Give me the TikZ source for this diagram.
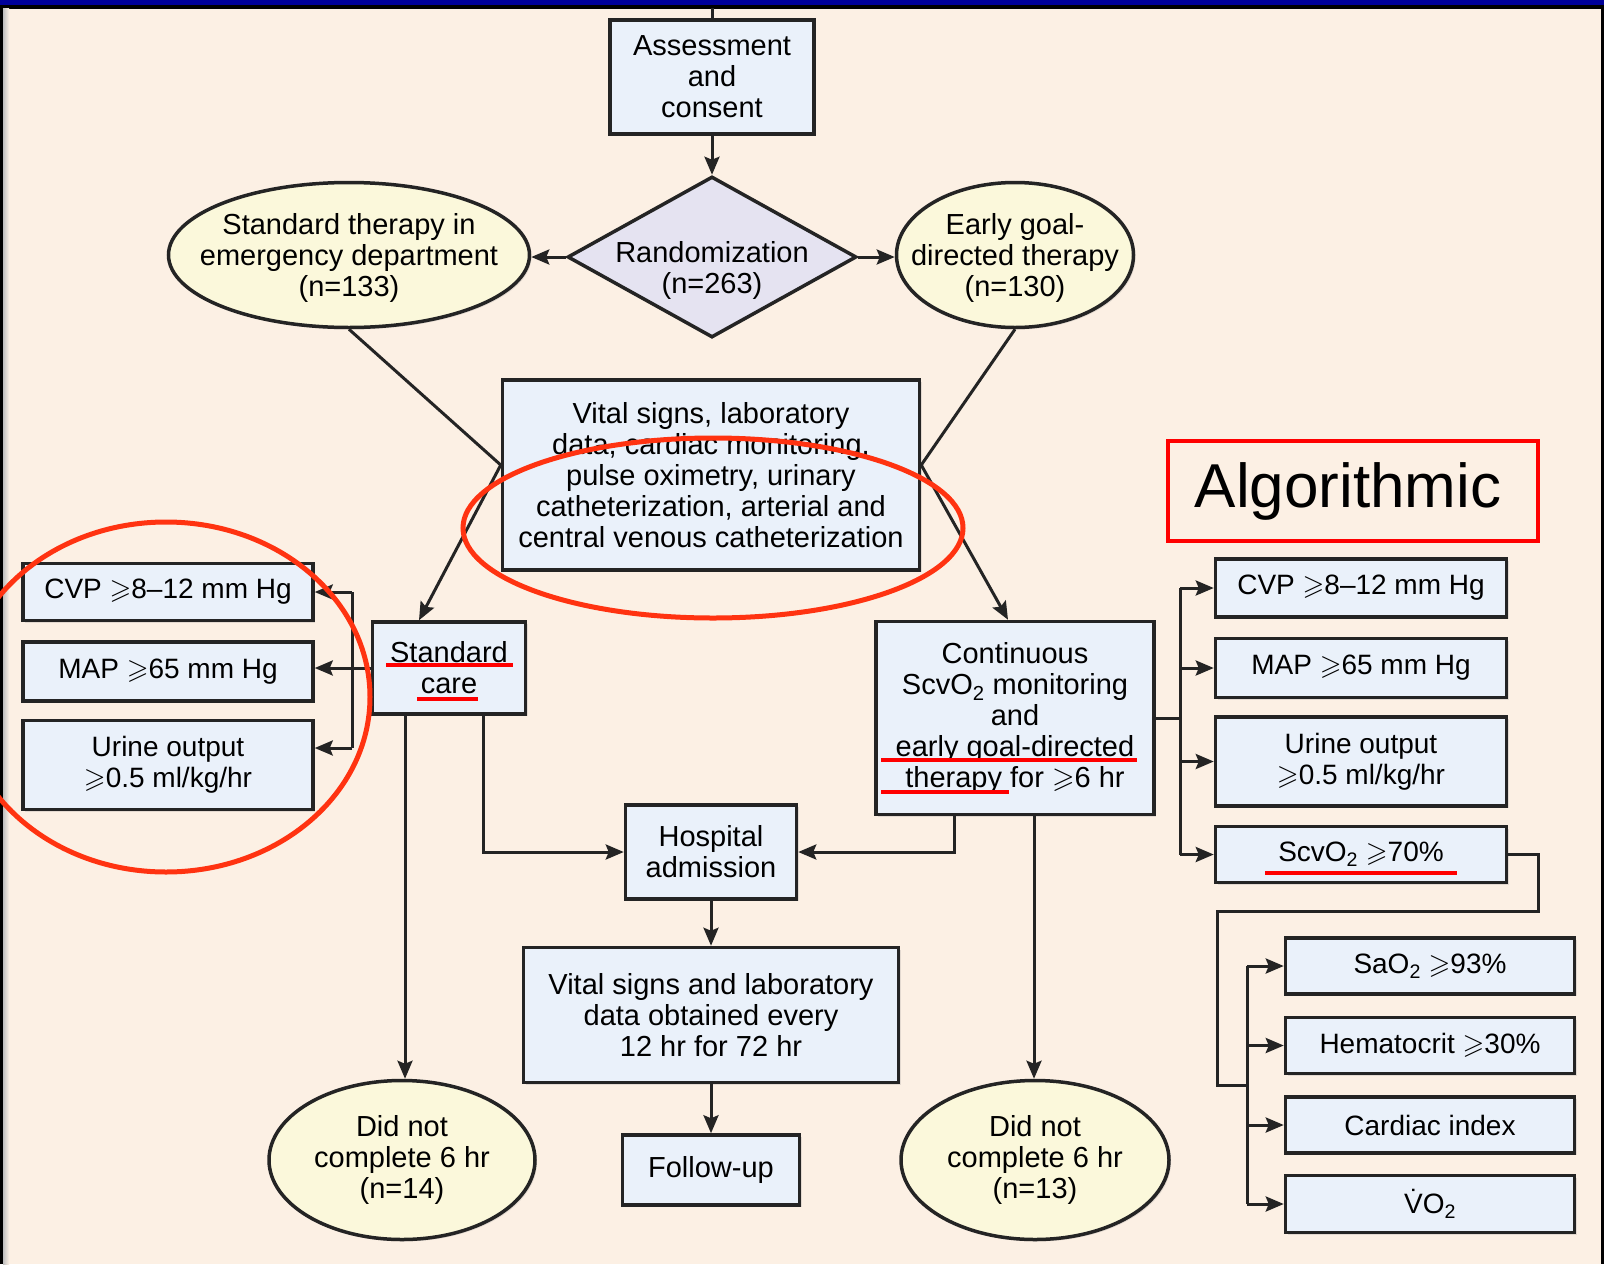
\documentclass[tikz,border=0pt]{standalone}
\usepackage{fontspec}
\setmainfont{Liberation Sans}
\usepackage{amssymb}
\usetikzlibrary{shapes.geometric}
\usetikzlibrary{arrows.meta}
\usetikzlibrary{shadows}
\usetikzlibrary{positioning}

\definecolor{paper}{HTML}{FCF0E4}
\definecolor{boxblue}{HTML}{EAF1FA}
\definecolor{ovalyellow}{HTML}{FBF8DB}
\definecolor{lilac}{HTML}{E5E3F1}
\definecolor{ink}{HTML}{242424}
\definecolor{bandblue}{HTML}{000099}
\definecolor{markred}{HTML}{FF0000}
\definecolor{ringred}{HTML}{FF3311}

\newcommand{\flowfont}{\fontsize{29}{31}\selectfont}
\newcommand{\sidefont}{\fontsize{28}{31}\selectfont}
\newcommand{\atleast}{$\geqslant$}

\begin{document}
\begin{tikzpicture}[x=1pt, y=-1pt]

\tikzset{flowbox/.style={draw=ink, line width=3.5pt, fill=boxblue, align=center,
                         inner sep=0pt, font=\flowfont,
                         drop shadow={shadow xshift=2pt, shadow yshift=-2pt, opacity=0.2}},
         sidebox/.style={flowbox, font=\sidefont},
         oval/.style={ellipse, draw=ink, line width=3.5pt, fill=ovalyellow, inner sep=0pt,
                      drop shadow={shadow xshift=2pt, shadow yshift=-2pt, opacity=0.2}},
         decision/.style={diamond, draw=ink, line width=3.5pt, fill=lilac, inner sep=0pt},
         ovaltext/.style={align=center, font=\flowfont, inner sep=0pt},
         dims/.style 2 args={minimum width=#1pt, minimum height=#2pt},
         link/.style={draw=ink, line width=3pt},
         arr/.style={link, -{Stealth[length=18pt, width=15pt, inset=3pt]}},
         underl/.style={draw=markred, line width=4.5pt},
         ring/.style={draw=ringred, line width=5pt}}

\useasboundingbox (0,0) rectangle (1604,1264);
\clip (0,0) rectangle (1604,1264);

% frame
\fill[paper] (0,0) rectangle (1604,1264);
\fill[bandblue] (0,0) rectangle (1604,4.5);
\fill[black] (0,4.5) rectangle (1604,8.5);
\fill[black] (0,8.5) rectangle (3,1264);
\shade[left color=gray!50, right color=paper] (3,8.5) rectangle (9,1264);
\fill[black] (1601,8.5) rectangle (1604,1264);

% middle column
\node[flowbox, dims={204}{114}] (assess) at (712,77) {Assessment\\and\\consent};
\node[decision, dims={289}{161}] (rand) at (712,257) {};
\node[ovaltext] (rand-txt) at (712,270) {Randomization\\(n=263)};
\node[oval, dims={361}{145}] (stdther) at (349,255) {};
\node[ovaltext] (stdther-txt) at (349,258) {Standard therapy in\\emergency department\\(n=133)};
\node[oval, dims={237}{145}] (egdt) at (1015,255) {};
\node[ovaltext] (egdt-txt) at (1015,258) {Early goal-\\directed therapy\\(n=130)};
\node[flowbox, dims={417}{190}] (vital) at (711,475)
  {Vital signs, laboratory\\data, cardiac monitoring,\\pulse oximetry, urinary\\catheterization, arterial and\\central venous catheterization};
\node[flowbox, dims={153}{92}] (stdcare) at (449,668) {Standard\\care};
\node[flowbox, dims={278}{193}] (cont) at (1015,718)
  {Continuous\\ScvO\textsubscript{2} monitoring\\and\\early goal-directed\\therapy for \atleast6 hr};
\node[flowbox, dims={171}{94}] (hosp) at (711,852) {Hospital\\admission};
\node[flowbox, dims={375}{135}] (vital12) at (711,1015)
  {Vital signs and laboratory\\data obtained every\\12 hr for 72 hr};
\node[flowbox, dims={177}{70}] (follow) at (711,1170) {Follow-up};
\node[oval, dims={266}{159}] (dropstd) at (402,1160) {};
\node[ovaltext] (dropstd-txt) at (402,1160) {Did not\\complete 6 hr\\(n=14)};
\node[oval, dims={268}{159}] (dropgdt) at (1035,1160) {};
\node[ovaltext] (dropgdt-txt) at (1035,1160) {Did not\\complete 6 hr\\(n=13)};

% standard care targets
\node[sidebox, dims={290}{57}] (lcvp) at (168,592) {CVP \atleast8--12 mm Hg};
\node[sidebox, dims={290}{59}, below=18pt of lcvp] (lmap) {MAP \atleast65 mm Hg};
\node[sidebox, dims={290}{89}, below=16pt of lmap] (lurine) {Urine output\\\atleast0.5 ml/kg/hr};

% goal-directed targets
\node[sidebox, dims={291}{58}] (rcvp) at (1361,588) {CVP \atleast8--12 mm Hg};
\node[sidebox, dims={291}{59}, below=18pt of rcvp] (rmap) {MAP \atleast65 mm Hg};
\node[sidebox, dims={291}{89}, below=16pt of rmap] (rurine) {Urine output\\\atleast0.5 ml/kg/hr};
\node[sidebox, dims={291}{56}, below=17pt of rurine] (rscv) {ScvO\textsubscript{2} \atleast70\%};
\node[sidebox, dims={289}{56}] (sao2) at (1430,966) {SaO\textsubscript{2} \atleast93\%};
\node[sidebox, dims={289}{56}, below=20pt of sao2] (hct) {Hematocrit \atleast30\%};
\node[sidebox, dims={289}{56}, below=20pt of hct] (cardiac) {Cardiac index};
\node[sidebox, dims={289}{57}, below=19pt of cardiac] (vo2) {\.{V}O\textsubscript{2}};

\node[draw=markred, line width=4pt, dims={370}{100}, inner sep=0pt,
      font=\fontsize{62}{70}\selectfont] (algo) at (1353,491) {Algorithmic\hspace*{10pt}};

% connectors
\coordinate (entry) at (712,8);
\draw[link] (entry) -- (assess);
\draw[arr] (assess) -- (rand);
\draw[arr] (rand.west) -- (stdther.east |- rand.west);
\draw[arr] (rand.east) -- (egdt.west |- rand.east);

\coordinate (vitalL) at ([yshift=10pt]vital.west);
\coordinate (vitalR) at ([yshift=10pt]vital.east);
\draw[link] (stdther.south) -- (vitalL);
\draw[arr] (vitalL) -- ([xshift=-30pt]stdcare.north);
\draw[link] (egdt.south) -- (vitalR);
\draw[arr] (vitalR) -- ([xshift=-7pt]cont.north);

\draw[arr] ([xshift=-44pt]stdcare.south) -- ([xshift=-44pt]stdcare.south |- dropstd.north);
\draw[arr] ([xshift=34pt]stdcare.south) |- (hosp.west);
\draw[arr] ([xshift=-61pt]cont.south) |- (hosp.east);
\draw[arr] ([xshift=19pt]cont.south) -- ([xshift=19pt]cont.south |- dropgdt.north);
\draw[arr] (hosp) -- (vital12);
\draw[arr] (vital12) -- (follow);

% left branch
\coordinate (trunkL) at (352,670);
\coordinate (lurineIn) at ([yshift=17pt]lurine.east);
\draw[arr] (stdcare.west) -- (stdcare.west -| lmap.east);
\draw[link] (trunkL |- lcvp) -- (trunkL |- lurineIn);
\draw[arr] (trunkL |- lcvp) -- (lcvp);
\draw[arr] (trunkL |- lurineIn) -- (lurineIn);

% right branch
\coordinate (trunkR) at (1180,716);
\draw[link] (cont.east) -- (cont.east -| trunkR);
\draw[link] (trunkR |- rcvp) -- (trunkR |- rscv);
\draw[arr] (trunkR |- rcvp) -- (rcvp);
\draw[arr] (trunkR |- rmap) -- (rmap);
\draw[arr] (trunkR |- rurine) -- (rurine);
\draw[arr] (trunkR |- rscv) -- (rscv);

\coordinate (loopA) at (1538,911);
\coordinate (loopB) at (1217,1085);
\coordinate (trunkB) at (1247,1085);
\draw[link] (rscv.east) -| (loopA) -| (loopB) -- (trunkB);
\draw[link] (trunkB |- sao2) -- (trunkB |- vo2);
\draw[arr] (trunkB |- sao2) -- (sao2);
\draw[arr] (trunkB |- hct) -- (hct);
\draw[arr] (trunkB |- cardiac) -- (cardiac);
\draw[arr] (trunkB |- vo2) -- (vo2);

% red marks
\draw[underl] (386,665) -- (513,665);
\draw[underl] (417,699) -- (478,699);
\draw[underl] (881,760) -- (1137,760);
\draw[underl] (881,792) -- (1009,792);
\draw[underl] (1265,873) -- (1457,873);
\draw[ring] (713,528) ellipse [x radius=250pt, y radius=90pt];
\draw[ring] (166,697) ellipse [x radius=204pt, y radius=175pt];

\end{tikzpicture}
\end{document}
